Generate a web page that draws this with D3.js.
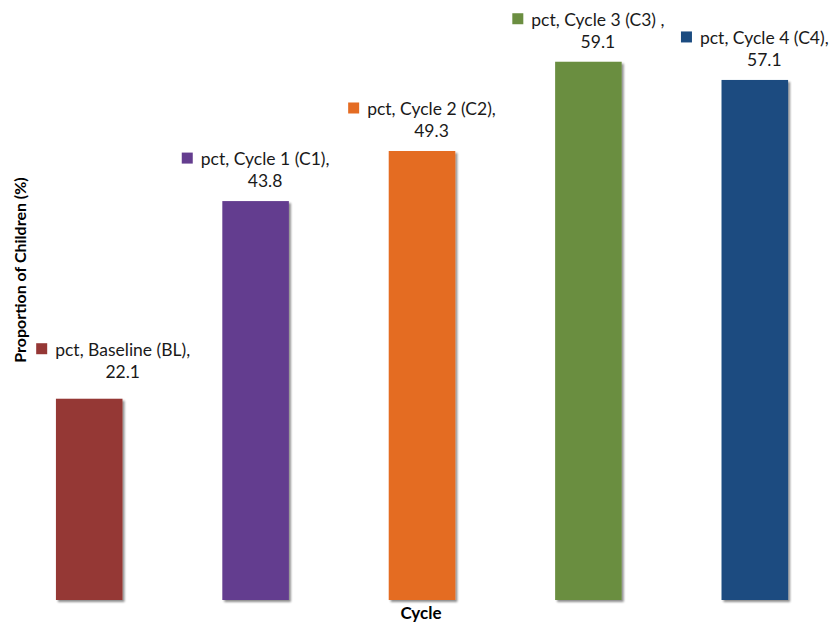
<!DOCTYPE html>
<html>
<head>
<meta charset="utf-8">
<script src="https://cdn.jsdelivr.net/npm/d3@7"></script>
<style>
  html, body { margin: 0; padding: 0; background: #fff; }
  svg { display: block; }
  text { font-family: Lato, "Open Sans", sans-serif; }
</style>
</head>
<body>
<svg id="chart" width="831" height="624"></svg>
<script>
// Share of children per survey cycle
const categories = ["Baseline (BL)", "Cycle 1 (C1)", "Cycle 2 (C2)", "Cycle 3 (C3) ", "Cycle 4 (C4)"];
const pctValues = [22.1, 43.8, 49.3, 59.1, 57.1];
const seriesName = "pct";
const barColors = ["#953735", "#643D8F", "#E46C23", "#6B8E41", "#1B4B80"];
const xTitle = "Cycle";
const yTitle = "Proportion of Children (%)";

const rows = categories.map((c, i) => ({ cat: c, value: pctValues[i], color: barColors[i] }));

const svg = d3.select("#chart");
const baseY = 600, topY = 8;

const x = d3.scaleBand()
  .domain(categories)
  .range([6, 838])
  .paddingInner(0.6)
  .paddingOuter(0.3);

const y = d3.scaleLinear().domain([0, 65]).range([baseY, topY]);

const defs = svg.append("defs");
const f = defs.append("filter").attr("id", "shadow")
  .attr("x", "-10%").attr("y", "-10%").attr("width", "130%").attr("height", "130%");
f.append("feGaussianBlur").attr("in", "SourceAlpha").attr("stdDeviation", 1.2).attr("result", "b");
f.append("feOffset").attr("in", "b").attr("dx", 2).attr("dy", 2).attr("result", "o");
f.append("feComponentTransfer").attr("in", "o").attr("result", "s")
  .append("feFuncA").attr("type", "linear").attr("slope", 0.45);
const m = f.append("feMerge");
m.append("feMergeNode").attr("in", "s");
m.append("feMergeNode").attr("in", "SourceGraphic");

// bars
svg.append("g").selectAll("rect")
  .data(rows)
  .join("rect")
  .attr("x", d => x(d.cat))
  .attr("y", d => y(d.value))
  .attr("width", x.bandwidth())
  .attr("height", d => baseY - y(d.value))
  .attr("fill", d => d.color)
  .attr("filter", "url(#shadow)");

// data labels: legend key + "series, category," on one line, value below
const fontSize = 17.5;
const labels = svg.append("g").selectAll("g.lbl")
  .data(rows)
  .join("g")
  .attr("class", "lbl");

labels.each(function(d, i) {
  const g = d3.select(this);
  const cx = x(d.cat) + x.bandwidth() / 2 + (i === 0 ? 24 : 0);
  const top = y(d.value) - (i === 0 ? 49 : 42);
  const line1 = g.append("text")
    .attr("y", top)
    .attr("dy", "0.35em")
    .attr("font-size", fontSize)
    .attr("fill", "#1a1a1a")
    .text(`${seriesName}, ${d.cat},`);
  const w = line1.node().getComputedTextLength();
  const keyW = 11, gap = 8;
  const total = keyW + gap + w;
  const left = cx - total / 2;
  g.append("rect")
    .attr("x", left)
    .attr("y", top - 6.5)
    .attr("width", keyW)
    .attr("height", keyW)
    .attr("fill", d.color);
  line1.attr("x", left + keyW + gap);
  g.append("text")
    .attr("x", left + keyW + gap + w / 2)
    .attr("y", top + 22)
    .attr("dy", "0.35em")
    .attr("text-anchor", "middle")
    .attr("font-size", fontSize)
    .attr("fill", "#1a1a1a")
    .text(d3.format(".1f")(d.value));
});

// axis titles
svg.append("text")
  .attr("x", 421)
  .attr("y", 613)
  .attr("dy", "0.35em")
  .attr("text-anchor", "middle")
  .attr("font-size", 17)
  .attr("font-weight", "bold")
  .attr("fill", "#000")
  .text(xTitle);

svg.append("text")
  .attr("transform", "translate(20,270) rotate(-90)")
  .attr("dy", "0.35em")
  .attr("text-anchor", "middle")
  .attr("font-size", 16)
  .attr("font-weight", "bold")
  .attr("fill", "#000")
  .text(yTitle);
</script>
</body>
</html>
